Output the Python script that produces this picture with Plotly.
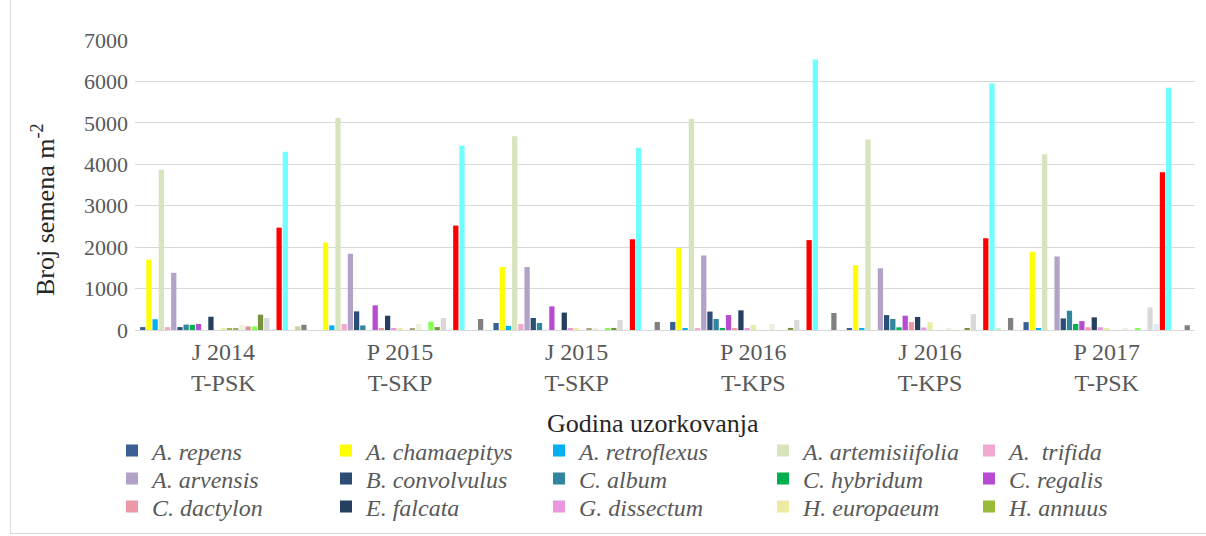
import plotly.graph_objects as go

categories = ["J 2014<br>T-PSK", "P 2015<br>T-SKP", "J 2015<br>T-SKP",
              "P 2016<br>T-KPS", "J 2016<br>T-KPS", "P 2017<br>T-PSK"]

series_names = [
    "A. repens", "A. chamaepitys", "A. retroflexus", "A. artemisiifolia", "A.  trifida",
    "A. arvensis", "B. convolvulus", "C. album", "C. hybridum", "C. regalis",
    "C. dactylon", "E. falcata", "G. dissectum", "H. europaeum", "H. annuus",
    "Vrsta 16", "Vrsta 17", "Vrsta 18", "Vrsta 19", "Vrsta 20", "Vrsta 21",
    "Vrsta 22", "Vrsta 23", "Vrsta 24", "Vrsta 25", "Vrsta 26", "Vrsta 27",
]

a_repens = [70, 0, 170, 195, 40, 190]
a_chamaepitys = [1700, 2110, 1520, 1975, 1565, 1890]
a_retroflexus = [260, 110, 100, 30, 30, 40]
a_artemisiifolia = [3870, 5125, 4675, 5100, 4600, 4240]
a_trifida = [70, 145, 145, 45, 0, 0]
a_arvensis = [1380, 1840, 1520, 1800, 1490, 1775]
b_convolvulus = [70, 450, 290, 445, 360, 280]
c_album = [130, 110, 170, 265, 265, 465]
c_hybridum = [125, 0, 0, 50, 65, 145]
c_regalis = [145, 595, 570, 360, 345, 215]
c_dactylon = [0, 50, 0, 50, 190, 65]
e_falcata = [320, 345, 420, 475, 315, 305]
g_dissectum = [0, 40, 40, 40, 60, 65]
h_europaeum = [40, 40, 30, 120, 190, 30]
h_annuus = [40, 0, 0, 0, 0, 0]
vrsta_16 = [40, 40, 40, 0, 0, 0]
vrsta_17 = [125, 145, 50, 145, 30, 30]
vrsta_18 = [85, 0, 0, 0, 0, 0]
vrsta_19 = [85, 200, 50, 0, 0, 30]
vrsta_20 = [370, 70, 50, 50, 40, 0]
vrsta_21 = [290, 290, 240, 240, 385, 545]
vrsta_22 = [20, 0, 0, 0, 0, 145]
vrsta_23 = [2470, 2520, 2190, 2170, 2215, 3805]
vrsta_24 = [4300, 4450, 4400, 6530, 5950, 5850]
vrsta_25 = [0, 0, 0, 0, 30, 0]
vrsta_26 = [85, 0, 0, 0, 0, 0]
vrsta_27 = [125, 265, 195, 410, 290, 115]

series_values = [
    a_repens, a_chamaepitys, a_retroflexus, a_artemisiifolia, a_trifida,
    a_arvensis, b_convolvulus, c_album, c_hybridum, c_regalis,
    c_dactylon, e_falcata, g_dissectum, h_europaeum, h_annuus,
    vrsta_16, vrsta_17, vrsta_18, vrsta_19, vrsta_20, vrsta_21,
    vrsta_22, vrsta_23, vrsta_24, vrsta_25, vrsta_26, vrsta_27,
]

colors = [
    "#3A5F94", "#FFFF00", "#00B0F0", "#D7E4BD", "#F2A9D0",
    "#B3A2C7", "#2C4D75", "#31859C", "#00B050", "#B74BD1",
    "#EC98A8", "#243F60", "#EA97E0", "#ECEBA6", "#9BBB3A",
    "#ADA27A", "#EBF1DE", "#D99694", "#80FF50", "#77933C", "#D9D9D9",
    "#DAEEF3", "#FF0000", "#6FFFFF", "#C6EFCE", "#C4D79B", "#808080",
]

W, H = 1206, 536
L, R, T, B = 135, 1195, 40, 330  # plot area in px

def px_x(px):
    return (px - L) / (R - L)

def px_y(py):
    return (B - py) / (B - T)

SERIF = "Liberation Serif"

fig = go.Figure()
legend_cols_text_x = [148, 362, 575, 799, 1005]
legend_rows_y = [451, 479, 507]

layout_legends = {}
for i, (name, vals, col) in enumerate(zip(series_names, series_values, colors)):
    kw = {}
    if i < 15:
        key = "legend" if i == 0 else f"legend{i + 1}"
        kw["legend"] = key
        kw["showlegend"] = True
        r, c = divmod(i, 5)
        layout_legends[key] = dict(
            x=px_x(legend_cols_text_x[c] - 36), y=px_y(legend_rows_y[r]),
            xanchor="left", yanchor="middle",
            bgcolor="rgba(0,0,0,0)", borderwidth=0,
            font=dict(family=SERIF, size=24, color="#595959", style="italic"),
            itemwidth=30, tracegroupgap=0,
        )
    else:
        kw["showlegend"] = False
    fig.add_trace(go.Bar(x=categories, y=vals, name=name,
                         marker=dict(color=col, line=dict(width=0)), **kw))

fig.update_layout(
    width=W, height=H,
    margin=dict(l=L, r=W - R, t=T, b=H - B, autoexpand=False),
    paper_bgcolor="white", plot_bgcolor="white",
    barmode="group", bargap=1.5 / 28.5, bargroupgap=0.15,
    font=dict(family=SERIF, color="#595959"),
    **layout_legends,
)

fig.update_yaxes(range=[0, 7000], dtick=1000, showgrid=True, gridcolor="#D9D9D9",
                 gridwidth=1, zeroline=False, showline=False,
                 tickfont=dict(family=SERIF, size=22, color="#595959"),
                 ticks="", ticklabelstandoff=6)
fig.update_xaxes(showline=True, linecolor="#D9D9D9", linewidth=1, ticks="",
                 tickfont=dict(family=SERIF, size=24, color="#595959"))

fig.add_annotation(text="Broj semena m<sup>-2</sup>", textangle=-90,
                   xref="paper", yref="paper", x=px_x(43), y=px_y(210),
                   xanchor="center", yanchor="middle", showarrow=False,
                   font=dict(family=SERIF, size=26, color="#262626"))
fig.add_annotation(text="Godina uzorkovanja",
                   xref="paper", yref="paper", x=px_x(653), y=px_y(423),
                   xanchor="center", yanchor="middle", showarrow=False,
                   font=dict(family=SERIF, size=26, color="#262626"))

# chart-area border (left and bottom visible)
fig.add_shape(type="line", xref="paper", yref="paper",
              x0=px_x(10.5), x1=px_x(10.5), y0=px_y(0), y1=px_y(534),
              line=dict(color="#D9D9D9", width=1))
fig.add_shape(type="line", xref="paper", yref="paper",
              x0=px_x(10.5), x1=px_x(1206), y0=px_y(533.5), y1=px_y(533.5),
              line=dict(color="#D9D9D9", width=1))

fig.write_html("out.html", config={"displayModeBar": False},
               post_script="document.body.style.margin='0';")
